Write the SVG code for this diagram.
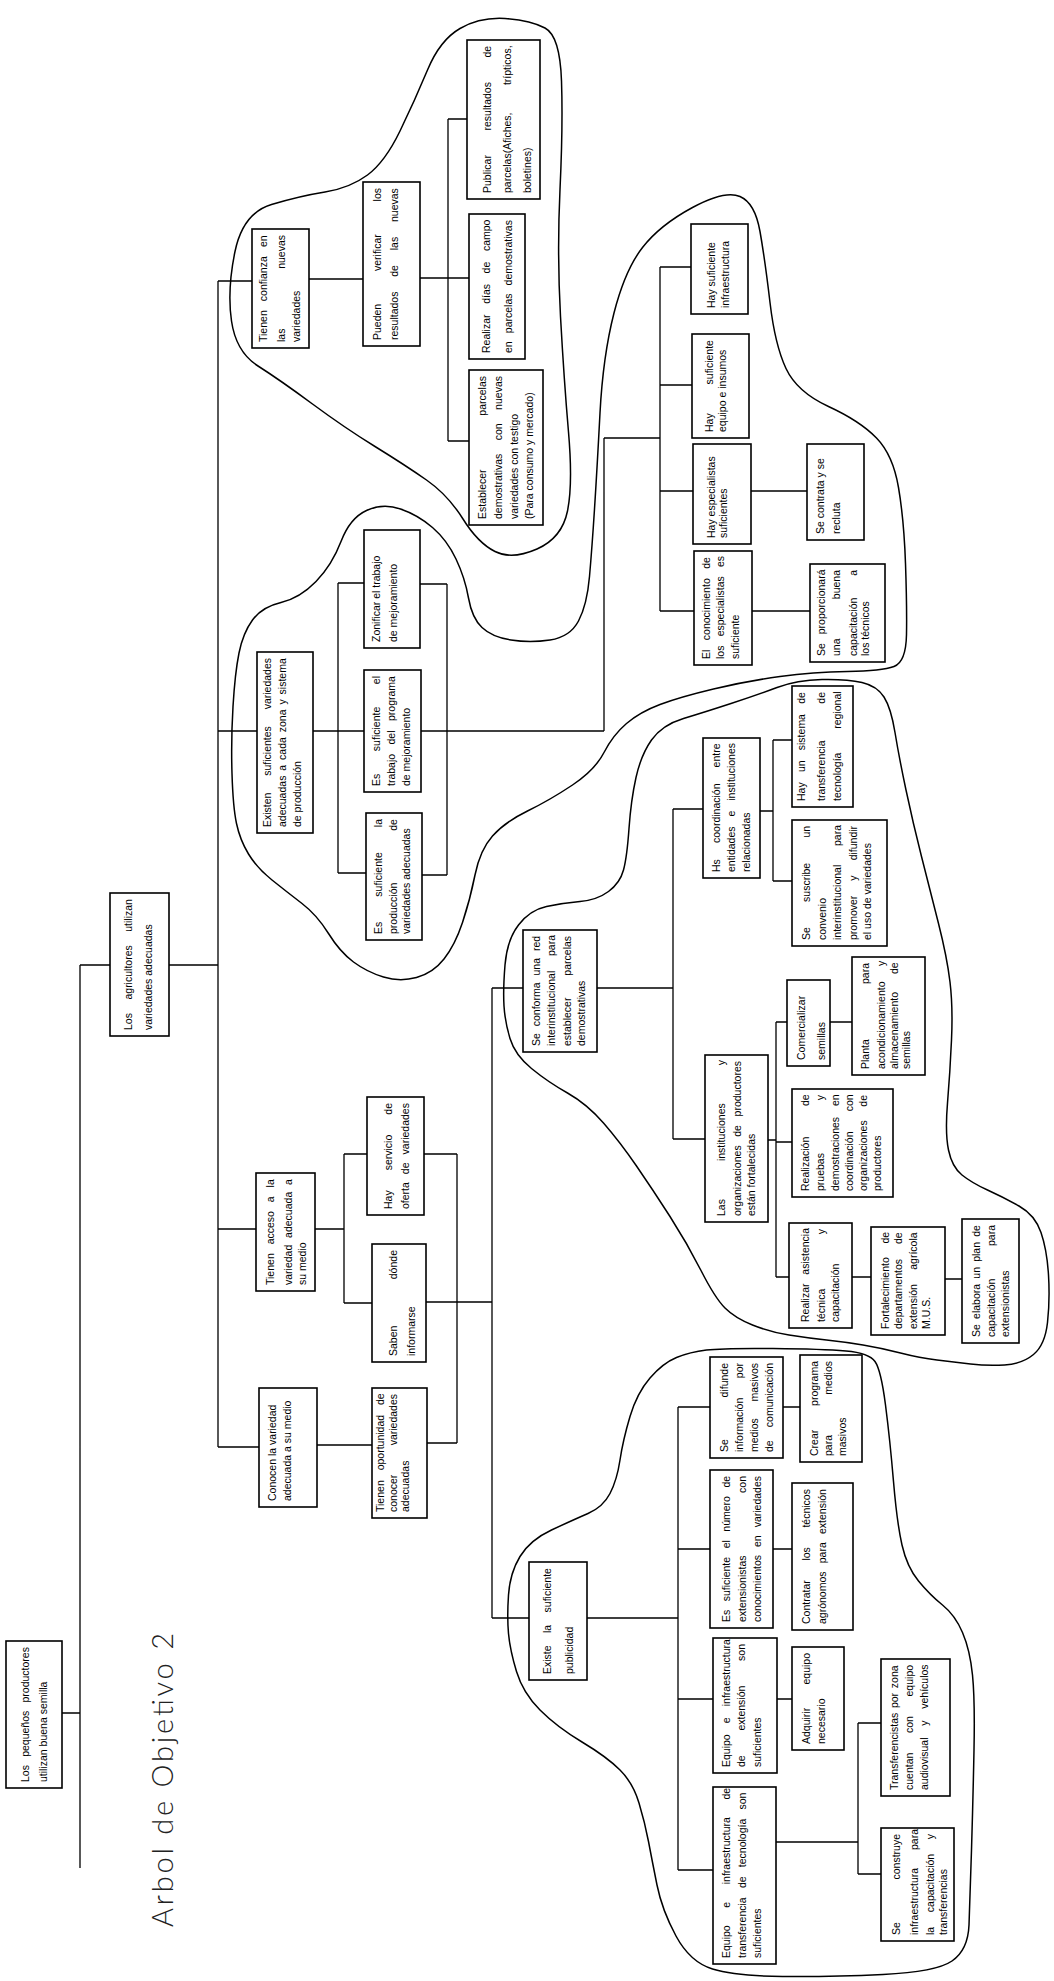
<svg xmlns="http://www.w3.org/2000/svg" width="1054" height="1981" viewBox="0 0 1054 1981">
<style>
.bg{fill:#fff}
.box{fill:#fff;stroke:#000;stroke-width:1.6}
.ln{fill:none;stroke:#000;stroke-width:1.3}
.cloud{fill:none;stroke:#000;stroke-width:1.5}
.t{font-family:"Liberation Sans",Arial,sans-serif;font-size:10.5px;fill:#000}
.title{font-family:Lato,"DejaVu Sans","Liberation Sans",sans-serif;font-weight:300;font-size:29px;fill:#222}
</style>
<rect class="bg" x="0" y="0" width="1054" height="1981"/>
<g id="clouds">
<path class="cloud" d="M235,251.5 Q243,213 271.5,204.5 Q300,196 325,192 Q350,188 367.5,175 Q385,162 400,131 Q415,100 427.5,70 Q440,40 460,28.5 Q480,17 505,18.5 Q530,20 545,28 Q560,36 561.5,81 Q563,126 560,189.5 Q557,253 560.5,316.5 Q564,380 568.5,432 Q573,484 567.5,511 Q562,538 537,549 Q512,560 495,551.5 Q478,543 463,519 Q448,495 426.5,480 Q405,465 375,446.5 Q345,428 312.5,404 Q280,380 258,366 Q236,352 231.5,321 Q227,290 235,251.5 Z"/>
<path class="cloud" d="M233,706.5 Q235,673 239,653 Q243,633 252.5,620 Q262,607 281,602.5 Q300,598 316,581.5 Q332,565 341,541.5 Q350,518 366.5,510.5 Q383,503 400.5,509 Q418,515 432.5,527.5 Q447,540 456,559 Q465,578 468.5,598 Q472,618 482,627.5 Q492,637 511,640 Q530,643 550,640 Q570,637 578.5,621 Q587,605 589.5,576.5 Q592,548 594.5,509 Q597,470 600,413 Q603,356 614,313 Q625,270 642.5,247.5 Q660,225 692.5,207.5 Q725,190 740,196.5 Q755,203 760,231.5 Q765,260 770,302.5 Q775,345 786,368.5 Q797,392 828.5,406.5 Q860,421 876.5,438 Q893,455 898.5,487.5 Q904,520 905.5,563.5 Q907,607 906.5,634.5 Q906,662 894,666.5 Q882,671 847.5,671.5 Q813,672 780,676.5 Q747,681 713.5,689 Q680,697 660,704.5 Q640,712 626.5,723.5 Q613,735 604,752.5 Q595,770 572.5,785 Q550,800 527.5,811 Q505,822 492.5,836 Q480,850 475,875 Q470,900 462.5,922.5 Q455,945 444,959 Q433,973 416.5,977.5 Q400,982 383.5,977 Q367,972 353.5,962 Q340,952 328.5,933.5 Q317,915 302,903.5 Q287,892 272,880 Q257,868 248.5,854 Q240,840 236.5,823.5 Q233,807 232,773.5 Q231,740 233,706.5 Z"/>
<path class="cloud" d="M504,1006 Q503,990 505,965 Q507,940 518.5,925 Q530,910 546.5,906.5 Q563,903 580,901.5 Q597,900 608.5,891.5 Q620,883 623.5,870 Q627,857 629,828.5 Q631,800 636,777.5 Q641,755 651.5,740 Q662,725 683.5,718.5 Q705,712 731,703.5 Q757,695 777,687.5 Q797,680 822,679.5 Q847,679 862,682.5 Q877,686 884,697 Q891,708 895,732.5 Q899,757 906,790 Q913,823 921.5,856.5 Q930,890 938.5,923.5 Q947,957 950,982 Q953,1007 951.5,1040 Q950,1073 947.5,1103 Q945,1133 948.5,1150 Q952,1167 962,1175 Q972,1183 987.5,1190 Q1003,1197 1019,1206 Q1035,1215 1041,1232.5 Q1047,1250 1048.5,1275 Q1050,1300 1047.5,1322.5 Q1045,1345 1033.5,1354.5 Q1022,1364 1004.5,1365 Q987,1366 970.5,1364 Q954,1362 937,1360 Q920,1358 900.5,1353 Q881,1348 863,1345 Q845,1342 826.5,1340 Q808,1338 789,1335 Q770,1332 752.5,1325 Q735,1318 725,1308 Q715,1298 701,1270.5 Q687,1243 670,1216.5 Q653,1190 636.5,1166 Q620,1142 603.5,1123 Q587,1104 567.5,1093 Q548,1082 531.5,1068.5 Q515,1055 510,1038.5 Q505,1022 504,1006 Z"/>
<path class="cloud" d="M508.5,1633.5 Q507,1617 508.5,1595 Q510,1573 520,1556.5 Q530,1540 551.5,1530 Q573,1520 588,1513.5 Q603,1507 610,1493.5 Q617,1480 620,1460 Q623,1440 630,1416.5 Q637,1393 650,1378 Q663,1363 676.5,1357.5 Q690,1352 706.5,1350 Q723,1348 773,1348.5 Q823,1349 846,1351 Q869,1353 875,1361.5 Q881,1370 885.5,1405 Q890,1440 893.5,1481.5 Q897,1523 902,1545 Q907,1567 918.5,1581 Q930,1595 942.5,1605 Q955,1615 962.5,1632.5 Q970,1650 972.5,1675 Q975,1700 974,1750 Q973,1800 971.5,1850 Q970,1900 969,1925 Q968,1950 952,1961 Q936,1972 883,1974.5 Q830,1977 782.5,1976.5 Q735,1976 712.5,1969 Q690,1962 676,1936 Q662,1910 657,1885 Q652,1860 648.5,1841.5 Q645,1823 639,1803 Q633,1783 620,1770 Q607,1757 582,1742 Q557,1727 540,1710 Q523,1693 516.5,1671.5 Q510,1650 508.5,1633.5 Z"/>
</g>
<g id="connectors" class="ln">
<path d="M80,965 V1868 M62,1713 H80 M80,965 H110 M169,965 H218 M218,281 V1447 M218,281 H252 M218,731 H257 M218,1229 H256 M218,1447 H259"/>
<path d="M309,279 H363 M420,278 H448 M448,119 V441 M448,119 H467 M448,278 H469 M448,441 H469"/>
<path d="M313,731 H364 M338,583 V873 M338,583 H364 M338,873 H366 M420,584 H447 M421,731 H604 M422,875 H447 M447,584 V875"/>
<path d="M604,438 V731 M604,438 H660 M660,267 V611 M660,267 H691 M660,385 H692 M660,491 H693 M660,611 H694 M751,491 H807 M752,611 H810"/>
<path d="M315,1229 H344 M344,1154 V1303 M344,1154 H367 M344,1303 H372 M424,1154 H457 M457,1154 V1443 M427,1443 H457 M317,1445 H372 M426,1302 H492"/>
<path d="M492,988 V1618 M492,988 H523 M597,988 H673 M673,809 V1139 M673,809 H703 M673,1139 H705 M760,811 H773 M773,740 V881 M773,740 H792 M773,881 H792 M768,1140 H776 M776,1022 V1277 M776,1022 H787 M830,1022 H852 M776,1142 H792 M776,1277 H789 M852,1277 H871 M945,1279 H962"/>
<path d="M492,1618 H529 M587,1618 H678 M678,1407 V1870 M678,1407 H710 M678,1549 H710 M678,1699 H713 M678,1870 H713 M783,1407 H800 M773,1549 H792 M777,1699 H792 M776,1842 H858 M858,1723 V1874 M858,1723 H881 M858,1874 H881"/>
</g>
<g id="title"><text class="title" transform="rotate(-90)" x="-1927" y="173" textLength="294">Arbol de Objetivo 2</text></g>

<g id="n-root"><rect class="box" x="6" y="1641" width="56" height="147"/><g transform="rotate(-90)" class="t">
<text x="-1782" y="29" word-spacing="5.3">Los pequeños productores</text><text x="-1782" y="47">utilizan buena semilla</text></g></g>

<g id="n-agricultores"><rect class="box" x="110" y="893" width="59" height="143"/><g transform="rotate(-90)" class="t">
<text x="-1030" y="131.5" word-spacing="10.6">Los agricultores utilizan</text><text x="-1030" y="151.5">variedades adecuadas</text></g></g>

<g id="n-confianza"><rect class="box" x="252" y="229" width="57" height="119"/><g transform="rotate(-90)" class="t">
<text x="-342" y="266.5" word-spacing="6.2">Tienen confianza en</text><text x="-342" y="285" word-spacing="56.8">las nuevas</text><text x="-342" y="300">variedades</text></g></g>

<g id="n-existen"><rect class="box" x="257" y="652" width="56" height="181"/><g transform="rotate(-90)" class="t">
<text x="-827" y="270.5" word-spacing="13.9">Existen suficientes variedades</text><text x="-827" y="285.5" word-spacing="2">adecuadas a cada zona y sistema</text><text x="-827" y="300.5">de producción</text></g></g>

<g id="n-acceso"><rect class="box" x="256" y="1173" width="59" height="118"/><g transform="rotate(-90)" class="t">
<text x="-1285" y="273.5" word-spacing="6">Tienen acceso a la</text><text x="-1285" y="291.5" word-spacing="3.9">variedad adecuada a</text><text x="-1285" y="306">su medio</text></g></g>

<g id="n-conocen"><rect class="box" x="259" y="1388" width="58" height="119"/><g transform="rotate(-90)" class="t">
<text x="-1501" y="276">Conocen la variedad</text><text x="-1501" y="291">adecuada a su medio</text></g></g>

<g id="n-pueden"><rect class="box" x="363" y="182" width="57" height="164"/><g transform="rotate(-90)" class="t">
<text x="-340" y="380.5" word-spacing="29.9">Pueden verificar los</text><text x="-340" y="397.5" word-spacing="11.9">resultados de las nuevas</text></g></g>

<g id="n-zonificar"><rect class="box" x="364" y="530" width="56" height="118"/><g transform="rotate(-90)" class="t">
<text x="-642" y="379.5">Zonificar el trabajo</text><text x="-642" y="396.5">de mejoramiento</text></g></g>

<g id="n-trabajo"><rect class="box" x="364" y="670" width="57" height="122"/><g transform="rotate(-90)" class="t">
<text x="-786" y="380" word-spacing="19.7">Es suficiente el</text><text x="-786" y="395" word-spacing="6.5">trabajo del programa</text><text x="-786" y="410">de mejoramiento</text></g></g>

<g id="n-produccion"><rect class="box" x="366" y="813" width="56" height="127"/><g transform="rotate(-90)" class="t">
<text x="-934" y="381.5" word-spacing="22.2">Es suficiente la</text><text x="-934" y="396.5" word-spacing="49">producción de</text><text x="-934" y="409.5">variedades adecuadas</text></g></g>

<g id="n-servicio"><rect class="box" x="367" y="1097" width="57" height="118"/><g transform="rotate(-90)" class="t">
<text x="-1209" y="391.5" word-spacing="17.1">Hay servicio de</text><text x="-1209" y="408.5" word-spacing="5.1">oferta de variedades</text></g></g>

<g id="n-saben"><rect class="box" x="372" y="1244" width="54" height="118"/><g transform="rotate(-90)" class="t">
<text x="-1356" y="396.5" word-spacing="43.5">Saben dónde</text><text x="-1356" y="414.5">informarse</text></g></g>

<g id="n-oportunidad"><rect class="box" x="372" y="1388" width="55" height="130"/><g transform="rotate(-90)" class="t">
<text x="-1512" y="383.5" word-spacing="7">Tienen oportunidad de</text><text x="-1512" y="396.5" word-spacing="26.4">conocer variedades</text><text x="-1512" y="408.5">adecuadas</text></g></g>

<g id="n-publicar"><rect class="box" x="467" y="40" width="73" height="159"/><g transform="rotate(-90)" class="t">
<text x="-193" y="490.5" word-spacing="21.6">Publicar resultados de</text><text x="-193" y="510.5" word-spacing="24.5">parcelas(Afiches, trípticos,</text><text x="-193" y="530.5">boletines)</text></g></g>

<g id="n-dias"><rect class="box" x="469" y="214" width="56" height="145"/><g transform="rotate(-90)" class="t">
<text x="-353" y="489.5" word-spacing="7.7">Realizar días de campo</text><text x="-353" y="511.5" word-spacing="5.2">en parcelas demostrativas</text></g></g>

<g id="n-establecer"><rect class="box" x="469" y="370" width="74" height="155"/><g transform="rotate(-90)" class="t">
<text x="-519" y="485.5" word-spacing="50.8">Establecer parcelas</text><text x="-519" y="501.5" word-spacing="10.5">demostrativas con nuevas</text><text x="-519" y="517.5">variedades con testigo</text><text x="-519" y="533">(Para consumo y mercado)</text></g></g>

<g id="n-infra"><rect class="box" x="691" y="224" width="57" height="90"/><g transform="rotate(-90)" class="t">
<text x="-308" y="714.5">Hay suficiente</text><text x="-308" y="728.5">infraestructura</text></g></g>

<g id="n-equipo"><rect class="box" x="692" y="334" width="57" height="104"/><g transform="rotate(-90)" class="t">
<text x="-432" y="713" word-spacing="26">Hay suficiente</text><text x="-432" y="725.5">equipo e insumos</text></g></g>

<g id="n-especialistas"><rect class="box" x="693" y="444" width="58" height="100"/><g transform="rotate(-90)" class="t">
<text x="-538" y="714.5">Hay especialistas</text><text x="-538" y="726.5">suficientes</text></g></g>

<g id="n-conocimiento"><rect class="box" x="694" y="551" width="58" height="114"/><g transform="rotate(-90)" class="t">
<text x="-659" y="709.5" word-spacing="6.6">El conocimiento de</text><text x="-659" y="723.5" word-spacing="6.3">los especialistas es</text><text x="-659" y="738.5">suficiente</text></g></g>

<g id="n-contrata"><rect class="box" x="807" y="444" width="57" height="96"/><g transform="rotate(-90)" class="t">
<text x="-534" y="823.5">Se contrata y se</text><text x="-534" y="839.5">recluta</text></g></g>

<g id="n-proporcionara"><rect class="box" x="810" y="564" width="75" height="98"/><g transform="rotate(-90)" class="t">
<text x="-656" y="824.5" word-spacing="6">Se proporcionará</text><text x="-656" y="839.5" word-spacing="36.4">una buena</text><text x="-656" y="856.5" word-spacing="18.9">capacitación a</text><text x="-656" y="868.5">los técnicos</text></g></g>

<g id="n-conforma"><rect class="box" x="523" y="930" width="74" height="122"/><g transform="rotate(-90)" class="t">
<text x="-1046" y="539.5" word-spacing="4">Se conforma una red</text><text x="-1046" y="554.5" word-spacing="11.8">interinstitucional para</text><text x="-1046" y="570.5" word-spacing="19">establecer parcelas</text><text x="-1046" y="584.5">demostrativas</text></g></g>

<g id="n-coordinacion"><rect class="box" x="703" y="738" width="57" height="140"/><g transform="rotate(-90)" class="t">
<text x="-872" y="719.5" word-spacing="13.2">Hs coordinación entre</text><text x="-872" y="734.5" word-spacing="7">entidades e instituciones</text><text x="-872" y="749.5">relacionadas</text></g></g>

<g id="n-sistema"><rect class="box" x="792" y="686" width="61" height="121"/><g transform="rotate(-90)" class="t">
<text x="-801" y="804.5" word-spacing="7.3">Hay un sistema de</text><text x="-801" y="824.5" word-spacing="33.7">transferencia de</text><text x="-801" y="840.5" word-spacing="20.9">tecnología regional</text></g></g>

<g id="n-convenio"><rect class="box" x="792" y="820" width="95" height="126"/><g transform="rotate(-90)" class="t">
<text x="-940" y="809.5" word-spacing="22.3">Se suscribe un</text><text x="-940" y="825.5">convenio</text><text x="-940" y="840.5" word-spacing="15.8">interinstitucional para</text><text x="-940" y="856.5" word-spacing="12.1">promover y difundir</text><text x="-940" y="870.5">el uso de variedades</text></g></g>

<g id="n-instituciones"><rect class="box" x="705" y="1055" width="63" height="167"/><g transform="rotate(-90)" class="t">
<text x="-1216" y="724.5" word-spacing="35.1">Las instituciones y</text><text x="-1216" y="740.5" word-spacing="5.7">organizaciones de productores</text><text x="-1216" y="754.5">están fortalecidas</text></g></g>

<g id="n-comercializar"><rect class="box" x="787" y="980" width="43" height="86"/><g transform="rotate(-90)" class="t">
<text x="-1060" y="805">Comercializar</text><text x="-1060" y="825">semillas</text></g></g>

<g id="n-planta"><rect class="box" x="852" y="957" width="73" height="118"/><g transform="rotate(-90)" class="t">
<text x="-1069" y="868.5" word-spacing="52.3">Planta para</text><text x="-1069" y="884.5" word-spacing="12.6">acondicionamiento y</text><text x="-1069" y="897.5" word-spacing="15">almacenamiento de</text><text x="-1069" y="910">semillas</text></g></g>

<g id="n-pruebas"><rect class="box" x="792" y="1089" width="101" height="108"/><g transform="rotate(-90)" class="t">
<text x="-1191" y="809" word-spacing="27.7">Realización de</text><text x="-1191" y="824" word-spacing="49.9">pruebas y</text><text x="-1191" y="839" word-spacing="7.9">demostraciones en</text><text x="-1191" y="853" word-spacing="17.2">coordinación con</text><text x="-1191" y="867" word-spacing="10.8">organizaciones de</text><text x="-1191" y="881">productores</text></g></g>

<g id="n-asistencia"><rect class="box" x="789" y="1223" width="63" height="105"/><g transform="rotate(-90)" class="t">
<text x="-1322" y="808.5" word-spacing="5.9">Realizar asistencia</text><text x="-1322" y="824.5" word-spacing="51.6">técnica y</text><text x="-1322" y="838.5">capacitación</text></g></g>

<g id="n-fortalecimiento"><rect class="box" x="871" y="1227" width="74" height="108"/><g transform="rotate(-90)" class="t">
<text x="-1329" y="888.5" word-spacing="10.7">Fortalecimiento de</text><text x="-1329" y="901.5" word-spacing="12">departamentos de</text><text x="-1329" y="916.5" word-spacing="11.4">extensión agrícola</text><text x="-1329" y="929.5">M.U.S.</text></g></g>

<g id="n-plan"><rect class="box" x="962" y="1219" width="57" height="124"/><g transform="rotate(-90)" class="t">
<text x="-1337" y="979.5" word-spacing="2.3">Se elabora un plan de</text><text x="-1337" y="994.5" word-spacing="29.7">capacitación para</text><text x="-1337" y="1008.5">extensionistas</text></g></g>

<g id="n-existe"><rect class="box" x="529" y="1562" width="58" height="118"/><g transform="rotate(-90)" class="t">
<text x="-1674" y="550.5" word-spacing="9.5">Existe la suficiente</text><text x="-1674" y="572.5">publicidad</text></g></g>

<g id="n-difunde"><rect class="box" x="710" y="1357" width="73" height="101"/><g transform="rotate(-90)" class="t">
<text x="-1452" y="727.5" word-spacing="38.8">Se difunde</text><text x="-1452" y="742.5" word-spacing="16.6">información por</text><text x="-1452" y="757.5" word-spacing="13.7">medios masivos</text><text x="-1452" y="772.5" word-spacing="10.2">de comunicación</text></g></g>

<g id="n-numero"><rect class="box" x="710" y="1470" width="63" height="158"/><g transform="rotate(-90)" class="t">
<text x="-1622" y="729.5" word-spacing="5.6">Es suficiente el número de</text><text x="-1622" y="745.5" word-spacing="59.6">extensionistas con</text><text x="-1622" y="760.5" word-spacing="5">conocimientos en variedades</text></g></g>

<g id="n-extension"><rect class="box" x="713" y="1638" width="64" height="135"/><g transform="rotate(-90)" class="t">
<text x="-1767" y="729.5" word-spacing="8.2">Equipo e infraestructura</text><text x="-1767" y="744.5" word-spacing="21.8">de extensión son</text><text x="-1767" y="760.5">suficientes</text></g></g>

<g id="n-transferencia"><rect class="box" x="713" y="1787" width="63" height="177"/><g transform="rotate(-90)" class="t">
<text x="-1958" y="730" word-spacing="14.7">Equipo e infraestructura de</text><text x="-1958" y="746" word-spacing="6.3">transferencia de tecnología son</text><text x="-1958" y="761">suficientes</text></g></g>

<g id="n-crear"><rect class="box" x="800" y="1355" width="62" height="107"/><g transform="rotate(-90)" class="t">
<text x="-1456" y="817.5" word-spacing="20.9">Crear programa</text><text x="-1456" y="831.5" word-spacing="37.2">para medios</text><text x="-1456" y="845.5">masivos</text></g></g>

<g id="n-contratar"><rect class="box" x="792" y="1483" width="61" height="147"/><g transform="rotate(-90)" class="t">
<text x="-1624" y="809.5" word-spacing="16.7">Contratar los técnicos</text><text x="-1624" y="825.5" word-spacing="5.3">agrónomos para extensión</text></g></g>

<g id="n-adquirir"><rect class="box" x="792" y="1647" width="52" height="103"/><g transform="rotate(-90)" class="t">
<text x="-1744" y="810" word-spacing="20.4">Adquirir equipo</text><text x="-1744" y="825">necesario</text></g></g>

<g id="n-transferencistas"><rect class="box" x="881" y="1659" width="69" height="137"/><g transform="rotate(-90)" class="t">
<text x="-1790" y="897.5" word-spacing="1.8">Transferencistas por zona</text><text x="-1790" y="912.5" word-spacing="16.7">cuentan con equipo</text><text x="-1790" y="927.5" word-spacing="8.8">audiovisual y vehículos</text></g></g>

<g id="n-construye"><rect class="box" x="881" y="1828" width="73" height="113"/><g transform="rotate(-90)" class="t">
<text x="-1935" y="899.5" word-spacing="39.7">Se construye</text><text x="-1935" y="918" word-spacing="15">infraestructura para</text><text x="-1935" y="934" word-spacing="11.7">la capacitación y</text><text x="-1935" y="947">transferencias</text></g></g>
</svg>
